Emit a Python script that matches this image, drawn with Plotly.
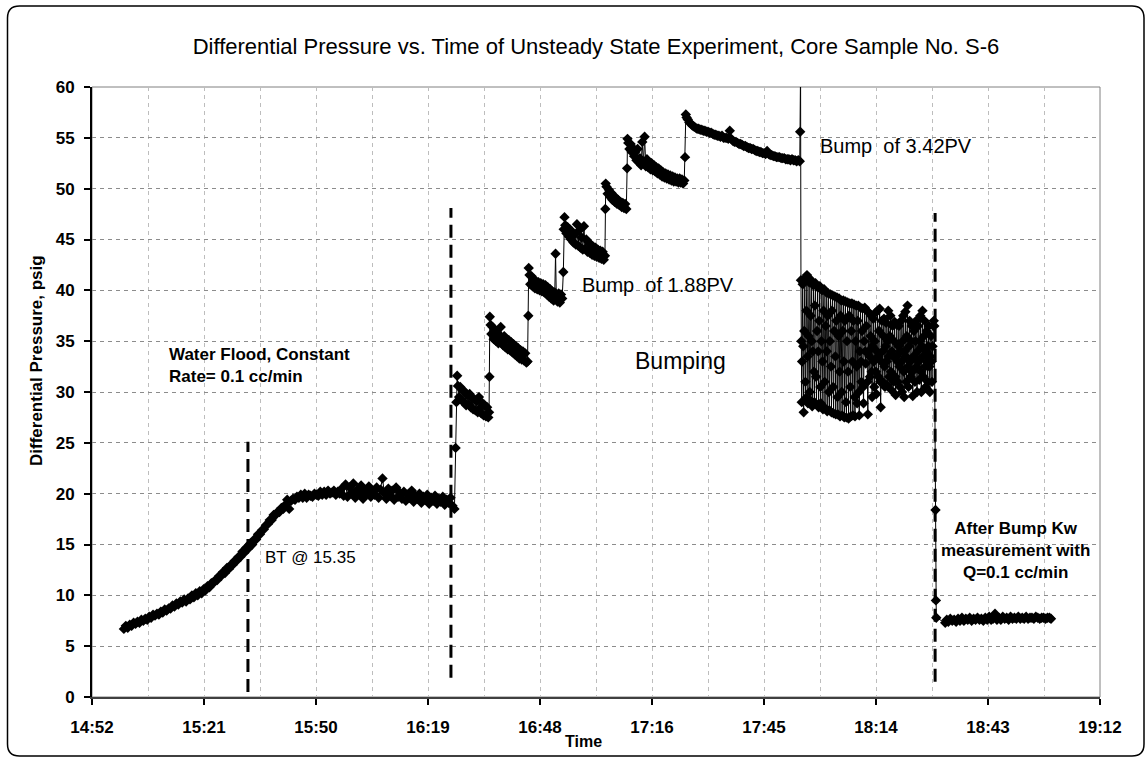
import pandas as pd
import plotly.graph_objects as go

# ---------------- data (time in minutes after midnight, dP in psig) ----------------
flood_t = [901.0, 901.5, 902.0, 902.5, 903.0, 903.5, 904.0, 904.5, 905.0, 905.5, 906.0, 906.5,
           907.0, 907.5, 908.0, 908.5, 909.0, 909.5, 910.0, 910.5, 911.0, 911.5, 912.0, 912.5,
           913.0, 913.5, 914.0, 914.5, 915.0, 915.5, 916.0, 916.5, 917.0, 917.5, 918.0, 918.5,
           919.0, 919.5, 920.0, 920.5, 921.0, 921.5, 922.0, 922.5, 923.0, 923.5, 924.0, 924.5,
           925.0, 925.5, 926.0, 926.5, 927.0, 927.5, 928.0, 928.5, 929.0, 929.5, 930.0, 930.5,
           931.0, 931.5, 932.0, 932.5, 933.0, 933.5, 934.0, 934.5, 935.0, 935.5, 936.0, 936.5,
           937.0, 937.5, 938.0, 938.5, 939.0, 939.5, 940.0, 940.5, 941.0, 941.5, 942.0, 942.5,
           943.0, 943.5, 944.0, 944.5, 945.0, 945.5, 946.0, 946.5, 947.0, 947.5, 948.0, 948.5,
           949.0, 949.5, 950.0, 950.5, 951.0, 951.5, 952.0, 952.5, 953.0, 953.5, 954.0, 954.5]
flood_dp = [6.7, 7.0, 6.8, 7.1, 7.0, 7.3, 7.2, 7.4, 7.3, 7.6, 7.5, 7.7,
            7.6, 7.9, 7.8, 8.1, 8.0, 8.2, 8.1, 8.4, 8.3, 8.6, 8.5, 8.7,
            8.7, 9.0, 8.9, 9.2, 9.1, 9.4, 9.3, 9.6, 9.4, 9.7, 9.6, 10.0,
            9.8, 10.2, 10.0, 10.4, 10.2, 10.6, 10.5, 10.9, 10.8, 11.2, 11.2, 11.5,
            11.5, 11.9, 11.9, 12.3, 12.2, 12.7, 12.6, 13.0, 13.0, 13.4, 13.4, 13.8,
            13.8, 14.3, 14.2, 14.7, 14.6, 15.1, 15.0, 15.5, 15.5, 16.0, 16.0, 16.4,
            16.5, 16.9, 17.0, 17.4, 17.4, 17.9, 17.9, 18.2, 18.2, 18.6, 18.5, 18.9,
            19.4, 18.5, 19.3, 19.5, 19.4, 19.7, 19.6, 19.9, 19.6, 20.0, 19.6, 19.9,
            19.8, 19.7, 20.0, 19.9, 19.8, 20.2, 19.9, 20.2, 19.9, 20.3, 20.0, 20.1]

plateau_t = [955.0, 955.5, 956.0, 956.5, 957.0, 957.5, 958.0, 958.5, 959.0, 959.5, 960.0, 960.5,
             961.0, 961.5, 962.0, 962.5, 963.0, 963.5, 964.0, 964.5, 965.0, 965.5, 966.0, 966.5,
             967.0, 967.5, 968.0, 968.5, 969.0, 969.5, 970.0, 970.5, 971.0, 971.5, 972.0, 972.5,
             973.0, 973.5, 974.0, 974.5, 975.0, 975.5, 976.0, 976.5, 977.0, 977.5, 978.0, 978.5,
             979.0, 979.5, 980.0, 980.5, 981.0, 981.5, 982.0, 982.5, 983.0, 983.5, 984.0, 984.5,
             985.0, 985.5, 986.0]
plateau_dp = [20.3, 19.9, 20.2, 20.0, 20.5, 19.8, 20.9, 19.7, 20.6, 20.1, 21.0, 19.6,
              20.4, 20.0, 20.8, 19.5, 20.3, 20.0, 20.7, 19.7, 20.2, 19.9, 20.6, 19.6,
              20.4, 21.5, 20.0, 19.5, 20.5, 19.8, 20.3, 19.4, 20.6, 19.7, 20.1, 19.5,
              20.2, 19.3, 19.9, 19.6, 20.3, 19.2, 19.8, 19.5, 20.0, 19.1, 19.7, 19.4,
              19.9, 19.0, 19.6, 19.3, 19.8, 19.0, 19.5, 19.2, 19.7, 18.9, 19.4, 19.1,
              19.6, 18.8, 18.5]

bump_t = [986.3, 986.5, 986.7, 986.9, 987.2, 987.5, 987.8, 988.1, 988.4, 988.7, 989.0, 989.3,
          989.6, 989.9, 990.2, 990.5, 990.8, 991.1, 991.4, 991.7, 992.0, 992.3, 992.6, 992.9,
          993.2, 993.5, 993.8, 994.1, 994.4, 994.7, 994.9,
          995.0, 995.1, 995.3, 995.5, 995.8, 996.1, 996.4, 996.7, 997.0, 997.3, 997.6, 997.9,
          998.2, 998.5, 998.8, 999.1, 999.4, 999.7, 1000.0, 1000.3, 1000.6, 1000.9, 1001.2, 1001.5,
          1001.8, 1002.1, 1002.4, 1002.7, 1003.0, 1003.3, 1003.6, 1003.9, 1004.2, 1004.5, 1004.8,
          1005.0, 1005.1, 1005.3, 1005.5, 1005.8, 1006.1, 1006.4, 1006.7, 1007.0, 1007.3, 1007.6,
          1007.9, 1008.2, 1008.5, 1008.8, 1009.1, 1009.4, 1009.7, 1010.0, 1010.3, 1010.6, 1010.9,
          1011.2, 1011.5, 1011.8, 1012.0, 1012.2, 1012.5, 1012.8, 1013.1, 1013.4, 1013.7,
          1014.0, 1014.1, 1014.3, 1014.5, 1014.8, 1015.1, 1015.4, 1015.7, 1016.0, 1016.3, 1016.6,
          1016.9, 1017.2, 1017.5, 1017.8, 1018.1, 1018.4, 1018.7, 1019.0, 1019.3, 1019.6, 1019.9,
          1020.2, 1020.5, 1020.8, 1021.1, 1021.4, 1021.7, 1022.0, 1022.3, 1022.6, 1022.9, 1023.2,
          1023.5, 1023.8, 1024.1, 1024.4, 1024.7,
          1024.8, 1024.9, 1025.1, 1025.4, 1025.7, 1026.0, 1026.3, 1026.6, 1026.9, 1027.2, 1027.5,
          1027.8, 1028.1, 1028.4, 1028.7, 1029.0, 1029.3, 1029.6, 1029.9, 1030.2,
          1030.4, 1030.5, 1030.7, 1031.0, 1031.3, 1031.6, 1031.9, 1032.2, 1032.5, 1032.8, 1033.1,
          1033.4, 1033.7, 1034.0, 1034.3, 1034.6, 1034.9, 1035.2, 1035.5, 1035.8, 1036.1, 1036.4,
          1036.7, 1037.0, 1037.3, 1037.6, 1037.9, 1038.2, 1038.5, 1038.8, 1039.1, 1039.4, 1039.7,
          1040.0, 1040.3, 1040.6, 1040.9, 1041.2, 1041.5, 1041.8, 1042.1, 1042.4, 1042.7, 1043.0,
          1043.3, 1043.6, 1043.9, 1044.2, 1044.5, 1044.8, 1045.1,
          1045.3, 1045.5, 1045.7, 1046.0, 1046.4, 1046.8, 1047.2, 1047.6, 1048.0, 1048.4, 1048.8,
          1049.2, 1049.6, 1050.0, 1050.4, 1050.8, 1051.2, 1051.6, 1052.0, 1052.4, 1052.8, 1053.2,
          1053.6, 1054.0, 1054.4, 1054.8, 1055.2, 1055.6, 1056.0, 1056.4, 1056.8, 1057.2, 1057.6,
          1058.0, 1058.4, 1058.8, 1059.2, 1059.6, 1060.0, 1060.4, 1060.8, 1061.2, 1061.6, 1062.0,
          1062.4, 1062.8, 1063.2, 1063.6, 1064.0, 1064.4, 1064.8, 1065.2, 1065.6, 1066.0, 1066.4,
          1066.8, 1067.2, 1067.6, 1068.0, 1068.4, 1068.8, 1069.2, 1069.6, 1070.0, 1070.4, 1070.8,
          1071.2, 1071.6, 1072.0, 1072.4, 1072.8, 1073.2, 1073.6, 1074.0, 1074.4, 1074.8, 1074.9,
          1075.0]
bump_dp = [24.5, 29.0, 31.6, 30.6, 29.5, 30.5, 29.2, 30.2, 29.0, 30.0, 28.7, 29.7,
           28.8, 29.8, 28.5, 29.4, 28.3, 29.3, 28.2, 29.1, 28.0, 29.5, 28.4, 27.9,
           28.9, 27.7, 28.7, 27.6, 28.5, 27.5, 28.0,
           31.5, 37.4, 36.6, 35.7, 36.4, 35.2, 36.0, 35.0, 35.8, 34.8, 35.6, 36.4,
           34.9, 34.6, 35.5, 34.4, 35.2, 34.2, 35.1, 34.1, 34.9, 33.9, 34.7, 33.7,
           34.5, 33.5, 34.3, 33.3, 34.1, 33.2, 34.0, 33.1, 33.8, 32.9, 33.0,
           37.5, 42.2, 41.5, 40.6, 41.4, 40.4, 41.1, 40.2, 40.9, 40.1, 40.8,
           40.0, 40.7, 39.9, 40.6, 39.8, 40.5, 39.6, 40.3, 39.4, 40.1, 39.2,
           39.9, 39.0, 39.8, 43.6, 39.3, 38.9, 39.7, 38.8, 39.6, 39.2,
           41.8, 46.0, 47.2, 46.4, 45.6, 46.2, 45.3, 46.0, 45.0, 45.7, 44.7,
           45.5, 44.5, 46.5, 44.4, 45.9, 44.2, 45.2, 44.0, 46.3, 44.1, 45.0,
           43.8, 44.7, 43.7, 44.5, 43.5, 44.3, 43.4, 44.2, 43.3, 44.0, 43.2,
           43.9, 43.1, 43.8, 43.0, 43.4,
           48.0, 50.5, 50.2, 49.5, 49.9, 49.2, 49.6, 48.9, 49.3, 48.7, 49.1,
           48.5, 48.9, 48.4, 48.7, 48.2, 48.6, 48.1, 48.5, 48.0,
           52.0, 54.9, 54.5, 53.9, 54.4, 53.6, 54.0, 53.2, 53.6, 52.8, 53.9,
           52.6, 53.0, 52.3, 54.6, 52.5, 55.1, 52.2, 52.9, 52.1, 52.6, 51.9,
           52.5, 51.8, 52.3, 51.7, 52.1, 51.5, 52.0, 51.4, 51.8, 51.2, 51.6,
           51.1, 51.5, 51.0, 51.4, 50.9, 51.3, 50.8, 51.2, 50.7, 51.1, 50.7,
           51.0, 50.6, 51.0, 50.6, 50.9, 50.5, 50.8,
           53.1, 57.3, 57.0, 56.8, 56.5, 56.4, 56.2, 56.1, 56.0, 55.9, 55.9,
           55.8, 55.8, 55.7, 55.7, 55.6, 55.6, 55.5, 55.5, 55.4, 55.3, 55.3,
           55.2, 55.2, 55.1, 55.2, 55.0, 55.0, 55.0, 54.9, 55.7, 54.9, 54.7,
           54.6, 54.6, 54.5, 54.4, 54.4, 54.3, 54.2, 54.2, 54.1, 54.0, 54.0,
           53.9, 53.9, 53.8, 53.7, 53.7, 53.6, 53.6, 53.5, 53.5, 53.4, 53.7,
           53.4, 53.3, 53.3, 53.2, 53.2, 53.1, 53.1, 53.1, 53.0, 53.0, 53.0,
           52.9, 52.9, 52.9, 52.8, 52.9, 52.8, 52.8, 52.7, 52.8, 52.7, 55.6,
           62.0]

osc_t = [1075.10, 1075.20, 1075.30, 1075.40, 1075.55, 1075.70, 1075.80, 1075.95, 1076.10, 1076.25,
         1076.35, 1076.50, 1076.65, 1076.80, 1076.90, 1077.05, 1077.20, 1077.35, 1077.45, 1077.60,
         1077.75, 1077.90, 1078.00, 1078.15, 1078.30, 1078.45, 1078.55, 1078.70, 1078.85, 1079.00,
         1079.10, 1079.25, 1079.40, 1079.55, 1079.65, 1079.80, 1079.95, 1080.10, 1080.20, 1080.35,
         1080.50, 1080.65, 1080.75, 1080.90, 1081.05, 1081.20, 1081.30, 1081.45, 1081.60, 1081.75,
         1081.85, 1082.00, 1082.15, 1082.30, 1082.40, 1082.55, 1082.70, 1082.85, 1082.95, 1083.10,
         1083.25, 1083.40, 1083.50, 1083.65, 1083.80, 1083.95, 1084.05, 1084.20, 1084.35, 1084.50,
         1084.60, 1084.75, 1084.90, 1085.05, 1085.15, 1085.30, 1085.45, 1085.60, 1085.70, 1085.85,
         1086.00, 1086.15, 1086.25, 1086.40, 1086.55, 1086.70, 1086.80, 1086.95, 1087.10, 1087.25,
         1087.35, 1087.50, 1087.65, 1087.80, 1087.90, 1088.05, 1088.20, 1088.35, 1088.45, 1088.60,
         1088.75, 1088.90, 1089.00, 1089.15, 1089.30, 1089.45, 1089.55, 1089.70, 1089.85, 1090.00,
         1090.10, 1090.25, 1090.40, 1090.55, 1090.65, 1090.80, 1090.95, 1091.10, 1091.20, 1091.35,
         1091.50, 1091.65, 1091.75, 1091.90, 1092.05, 1092.20, 1092.30, 1092.45, 1092.60, 1092.75,
         1092.85, 1093.00, 1093.15, 1093.30, 1093.40, 1093.55, 1093.70, 1093.85, 1093.95, 1094.10,
         1094.25, 1094.40, 1094.50, 1094.65, 1094.80, 1094.95, 1095.05, 1095.20, 1095.35, 1095.50,
         1095.60, 1095.75, 1095.90, 1096.05, 1096.15, 1096.30, 1096.45, 1096.60, 1096.70, 1096.85,
         1097.00, 1097.15, 1097.25, 1097.40, 1097.55, 1097.70, 1097.80, 1097.95, 1098.10, 1098.25,
         1098.35, 1098.50, 1098.65, 1098.80, 1098.90, 1099.05, 1099.20, 1099.35, 1099.45, 1099.60,
         1099.75, 1099.90, 1100.00, 1100.15, 1100.30, 1100.45, 1100.55, 1100.70, 1100.85, 1101.00,
         1101.10, 1101.25, 1101.40, 1101.55, 1101.65, 1101.80, 1101.95, 1102.10, 1102.20, 1102.35,
         1102.50, 1102.65, 1102.75, 1102.90, 1103.05, 1103.20, 1103.30, 1103.45, 1103.60, 1103.75,
         1103.85, 1104.00, 1104.15, 1104.30, 1104.40, 1104.55, 1104.70, 1104.85, 1104.95, 1105.10,
         1105.25, 1105.40, 1105.50, 1105.65, 1105.80, 1105.95, 1106.05, 1106.20, 1106.35, 1106.50,
         1106.60, 1106.75, 1106.90, 1107.05, 1107.15, 1107.30, 1107.45, 1107.60, 1107.70, 1107.85,
         1108.00, 1108.15, 1108.25, 1108.40, 1108.55, 1108.70, 1108.80, 1108.95, 1109.10, 1109.25,
         1109.40]
osc_dp = [41.0, 35.0, 29.0, 33.0, 40.6, 34.5, 28.0, 36.0, 41.2, 31.0,
          29.4, 38.0, 41.5, 33.5, 28.9, 35.5, 40.8, 30.0, 29.2, 37.5,
          41.0, 35.0, 28.6, 34.0, 40.5, 32.0, 29.0, 38.5, 40.7, 31.5,
          28.8, 36.0, 40.3, 34.0, 28.5, 37.0, 40.4, 30.5, 28.9, 35.0,
          40.0, 33.0, 28.3, 38.0, 40.1, 31.0, 28.4, 36.5, 39.8, 34.0,
          28.1, 37.5, 39.7, 30.0, 28.2, 35.0, 39.6, 32.5, 28.0, 38.0,
          39.5, 30.5, 27.9, 36.0, 39.4, 33.5, 27.8, 37.0, 39.3, 29.5,
          27.8, 35.5, 39.2, 32.0, 27.6, 37.5, 39.0, 30.0, 27.7, 36.0,
          39.0, 33.0, 27.5, 37.0, 38.9, 29.0, 27.5, 35.0, 38.8, 32.0,
          27.4, 37.5, 38.7, 30.5, 27.6, 36.0, 38.7, 33.0, 27.7, 37.0,
          38.6, 29.5, 27.6, 35.0, 38.5, 32.5, 28.9, 37.0, 38.5, 30.0,
          27.7, 34.0, 38.3, 33.0, 31.0, 36.0, 38.2, 30.5, 28.9, 35.0,
          38.3, 34.0, 32.8, 36.5, 38.0, 31.0, 27.8, 34.0, 37.8, 33.5,
          31.5, 35.5, 37.5, 32.0, 29.5, 34.5, 37.2, 33.0, 30.5, 35.0,
          37.8, 32.0, 29.8, 34.0, 38.0, 33.5, 31.5, 36.0, 38.2, 31.0,
          28.5, 33.0, 37.0, 34.0, 31.0, 35.5, 37.2, 32.5, 30.5, 34.5,
          36.8, 33.0, 30.7, 35.0, 38.0, 33.5, 31.5, 35.5, 37.5, 32.0,
          30.2, 34.0, 36.5, 33.5, 31.0, 35.0, 36.9, 31.5, 29.7, 33.5,
          36.6, 33.0, 31.0, 34.5, 36.5, 32.5, 30.5, 34.0, 37.0, 33.0,
          30.0, 35.0, 37.5, 32.0, 29.5, 34.0, 37.9, 33.5, 31.0, 35.5,
          38.5, 32.5, 30.5, 34.5, 37.0, 33.0, 31.5, 35.0, 36.5, 32.0,
          29.6, 33.5, 36.0, 33.5, 31.0, 35.0, 37.0, 32.5, 30.0, 34.0,
          36.5, 33.0, 31.2, 35.0, 37.5, 32.0, 30.0, 34.5, 38.0, 33.5,
          31.5, 35.5, 37.0, 32.5, 30.5, 34.0, 36.0, 33.0, 31.0, 34.5,
          36.5, 32.5, 30.0, 33.5, 35.5, 33.0, 31.0, 34.5, 36.5, 37.0,
          36.5]

after_t = [1109.7, 1109.8, 1109.9, 1112.2, 1112.6, 1113.0, 1113.5, 1114.0, 1114.5, 1115.0, 1115.5,
           1116.0, 1116.5, 1117.0, 1117.5, 1118.0, 1118.5, 1119.0, 1119.5, 1120.0, 1120.5, 1121.0,
           1121.5, 1122.0, 1122.5, 1123.0, 1123.5, 1124.0, 1124.5, 1125.0, 1125.5, 1126.0, 1126.5,
           1127.0, 1127.5, 1128.0, 1128.5, 1129.0, 1129.5, 1130.0, 1130.5, 1131.0, 1131.5, 1132.0,
           1132.5, 1133.0, 1133.5, 1134.0, 1134.5, 1135.0, 1135.5, 1136.0, 1136.5, 1137.0, 1137.5,
           1138.0, 1138.5, 1139.0, 1139.4]
after_dp = [18.4, 9.5, 7.8, 7.3, 7.6, 7.4, 7.7, 7.5, 7.6, 7.4, 7.7,
            7.5, 7.8, 7.5, 7.7, 7.6, 7.8, 7.5, 7.7, 7.6, 7.8, 7.6,
            7.7, 7.5, 7.8, 7.6, 7.9, 7.6, 7.7, 8.2, 7.6, 7.8, 7.6,
            7.9, 7.7, 7.8, 7.6, 7.9, 7.7, 7.8, 7.7, 7.9, 7.7, 7.8,
            7.7, 7.9, 7.7, 7.8, 7.8, 7.7, 7.9, 7.8, 7.7, 7.8, 7.8,
            7.7, 7.8, 7.8, 7.7]

# vertical dashed event markers: time (min after midnight), lower and upper dP
event_t = [932.9, 985.1, 1109.6]
event_lo = [0.5, 1.9, 1.5]
event_hi = [25.1, 48.1, 47.6]

title_text = "Differential Pressure vs. Time of Unsteady State Experiment, Core Sample No. S-6"
y_title = "Differential Pressure, psig"
x_title = "Time"

# ---------------- build figure ----------------
BASE = pd.Timestamp("2000-01-01")


def to_dt(mins):
    return BASE + pd.to_timedelta(pd.Series(mins, dtype=float), unit="m")


all_t = flood_t + plateau_t + bump_t + osc_t + after_t
all_dp = flood_dp + plateau_dp + bump_dp + osc_dp + after_dp

FONT = "Liberation Sans, Arial, sans-serif"

fig = go.Figure()
fig.add_trace(go.Scatter(
    x=to_dt(all_t), y=all_dp, mode="lines+markers",
    line=dict(color="black", width=1),
    marker=dict(symbol="diamond", size=8, color="black"),
    showlegend=False, hoverinfo="skip",
))

W, H = 1148, 760
L, R, T, B = 92, 1100, 87, 697


def px(x):
    return (x - L) / (R - L)


def py(y):
    return (B - y) / (B - T)


shapes = []
for t, lo, hi in zip(event_t, event_lo, event_hi):
    tx = to_dt([t]).iloc[0]
    shapes.append(dict(type="line", xref="x", yref="y", x0=tx, x1=tx, y0=lo, y1=hi,
                       line=dict(color="black", width=3, dash="13px,7px")))

# plot-area frame (top/right grey)
shapes.append(dict(type="rect", xref="paper", yref="paper", x0=0, x1=1, y0=0, y1=1,
                   line=dict(color="#808080", width=1), layer="below"))

# rounded outer chart border
x0, x1, y0, y1 = px(7.5), px(1144), py(756), py(6)
rx, ry = 12 / (R - L), 12 / (B - T)
path = (f"M {x0+rx} {y1} L {x1-rx} {y1} Q {x1} {y1} {x1} {y1-ry} "
        f"L {x1} {y0+ry} Q {x1} {y0} {x1-rx} {y0} L {x0+rx} {y0} "
        f"Q {x0} {y0} {x0} {y0+ry} L {x0} {y1-ry} Q {x0} {y1} {x0+rx} {y1} Z")
shapes.append(dict(type="path", xref="paper", yref="paper", path=path,
                   line=dict(color="black", width=1.5)))


def ann(text, x, y, size, bold=False, xanchor="center", align="center", angle=0):
    f = dict(size=size, family=FONT, color="black")
    if bold:
        f["weight"] = "bold"
    return dict(text=text, x=px(x), y=py(y), xref="paper", yref="paper",
                xanchor=xanchor, yanchor="middle", align=align, textangle=angle,
                showarrow=False, font=f)


annotations = [
    ann(y_title, 36, 361, 17, bold=True, angle=-90),
    ann(x_title, 583, 741, 16, bold=True),
    ann("Water Flood, Constant<br>Rate= 0.1 cc/min", 167, 365, 17, bold=True,
        xanchor="left", align="left"),
    ann("BT @ 15.35", 263, 557, 17, xanchor="left"),
    ann("Bump\u00a0 of 1.88PV", 580, 285, 20, xanchor="left"),
    ann("Bumping", 633, 361, 23, xanchor="left"),
    ann("Bump\u00a0 of 3.42PV", 818, 146, 20, xanchor="left"),
    ann("After Bump Kw<br>measurement with<br>Q=0.1 cc/min", 1015, 550, 17, bold=True),
]

fig.update_layout(
    width=W, height=H,
    margin=dict(l=L, r=W - R, t=T, b=H - B),
    paper_bgcolor="white", plot_bgcolor="white",
    title=dict(text=title_text, x=596 / W, xanchor="center", y=1 - 46 / H, yanchor="middle",
               font=dict(size=22, family=FONT, color="black")),
    shapes=shapes, annotations=annotations,
    font=dict(family=FONT, color="black"),
)

fig.update_xaxes(
    type="date",
    range=[BASE + pd.Timedelta(minutes=892.8), BASE + pd.Timedelta(minutes=1152)],
    tick0=BASE + pd.Timedelta(minutes=892.8), dtick=1728000, tickformat="%H:%M",
    ticks="outside", ticklen=6, tickwidth=1.5, tickcolor="black",
    tickfont=dict(size=17, family=FONT, color="black", weight="bold"),
    showline=True, linecolor="#404040", linewidth=2,
    showgrid=True, gridcolor="#bdbdbd", gridwidth=1, griddash="4px,4px",
    minor=dict(tick0=BASE + pd.Timedelta(minutes=892.8), dtick=864000, showgrid=True,
               gridcolor="#bdbdbd", gridwidth=1, griddash="4px,4px", ticklen=0),
    zeroline=False, ticklabelstandoff=8,
)
fig.update_yaxes(
    range=[0, 60], tick0=0, dtick=5,
    ticks="outside", ticklen=6, tickwidth=1.5, tickcolor="black",
    tickfont=dict(size=17, family=FONT, color="black", weight="bold"),
    showline=True, linecolor="black", linewidth=2,
    showgrid=True, gridcolor="#8c8c8c", gridwidth=1, griddash="4px,4px",
    zeroline=False, ticklabelstandoff=6,
)

fig.write_html("out.html")
